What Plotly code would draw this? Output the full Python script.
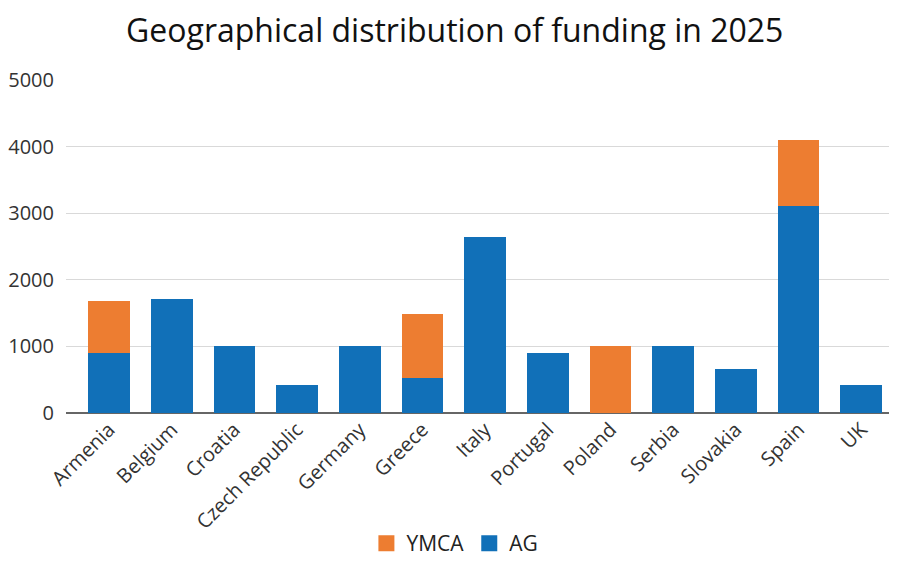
import plotly.graph_objects as go

countries = ["Armenia", "Belgium", "Croatia", "Czech Republic", "Germany", "Greece",
             "Italy", "Portugal", "Poland", "Serbia", "Slovakia", "Spain", "UK"]
ag = [900, 1710, 1000, 415, 1000, 530, 2640, 895, 0, 1000, 665, 3110, 415]
ymca = [785, 0, 0, 0, 0, 950, 0, 0, 1000, 0, 0, 990, 0]
series_names = ["AG", "YMCA"]

BLUE = "#1170B8"
ORANGE = "#ED7D31"
FONT = "Open Sans"

fig = go.Figure()
fig.add_trace(go.Bar(x=countries, y=ag, name=series_names[0], showlegend=False,
                     marker=dict(color=BLUE, line=dict(width=0))))
fig.add_trace(go.Bar(x=countries, y=ymca, name=series_names[1], showlegend=False,
                     marker=dict(color=ORANGE, line=dict(width=0))))
# legend-only entries with larger square swatches
for nm, col in [(series_names[1], ORANGE), (series_names[0], BLUE)]:
    fig.add_trace(go.Scatter(x=[None], y=[None], mode="markers", name=nm,
                             marker=dict(symbol="square", size=16, color=col)))

fig.update_layout(
    barmode="stack",
    bargap=0.335,
    width=889, height=556,
    margin=dict(l=58, r=0, t=72, b=151, autoexpand=False),
    paper_bgcolor="white", plot_bgcolor="white",
    font=dict(family=FONT, color="#333333"),
    title=dict(text="Geographical distribution of funding in 2025", x=0.5025, xanchor="center",
               y=0.959, yanchor="middle", font=dict(family=FONT, size=32, color="#111111")),
    showlegend=True,
    legend=dict(orientation="h", traceorder="normal", x=0.468, xanchor="center",
                y=-0.4535, yanchor="bottom", font=dict(size=21, color="#222222"),
                itemwidth=30, borderwidth=0),
    xaxis=dict(range=[-0.686, 12.57], tickangle=-45, tickfont=dict(size=20, color="#333333"),
               showgrid=False, showline=False, ticks="", automargin=False),
    yaxis=dict(range=[0, 5000], tickvals=[0, 1000, 2000, 3000, 4000, 5000],
               tickfont=dict(size=20, color="#333333"), gridcolor="#d9d9d9", gridwidth=1,
               zeroline=True, zerolinecolor="#666666", zerolinewidth=1.5, ticks="",
               ticklabelstandoff=11, automargin=False),
)

fig.write_html("out.html")
